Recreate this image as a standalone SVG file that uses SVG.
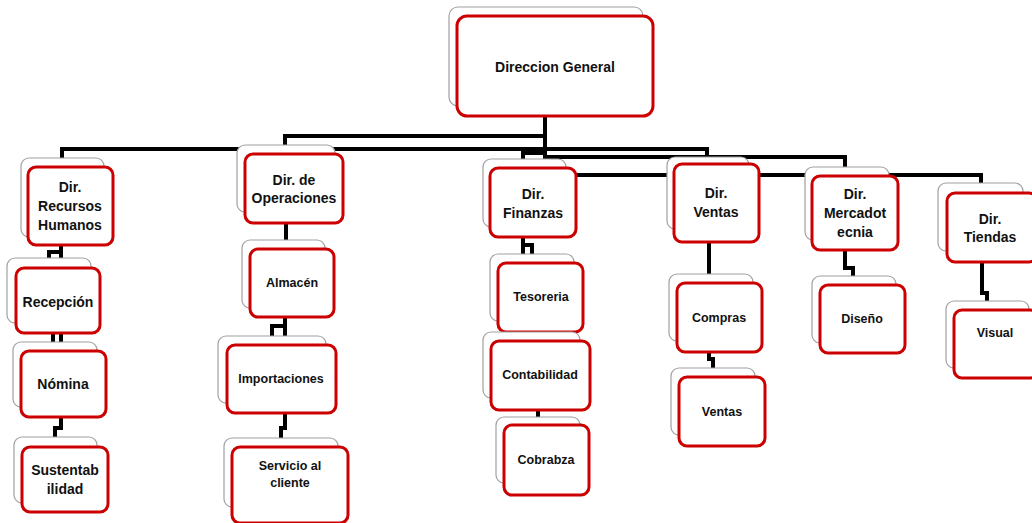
<svg xmlns="http://www.w3.org/2000/svg" width="1032" height="523" viewBox="0 0 1032 523">
<style>
.sh{fill:#fff;stroke:#a0a0a0;stroke-width:1.2}
.bx{fill:#fff;stroke:#cc0000;stroke-width:3}
.cn{fill:none;stroke:#000;stroke-width:4;stroke-linejoin:miter}
text{font-family:"Liberation Sans",Arial,sans-serif;font-weight:bold;fill:#111;text-anchor:middle}
.t14{font-size:14px}
.t12{font-size:12.5px}
</style>
<rect width="1032" height="523" fill="#fff"/>
<g id="connectors">
<path class="cn" d="M545,116 V176"/>
<path class="cn" d="M545,136 H285 V147"/>
<path class="cn" d="M545,149 H62 V160"/>
<path class="cn" d="M545,153 H523 V160"/>
<path class="cn" d="M545,149 H707 V159"/>
<path class="cn" d="M545,157 H845 V168"/>
<path class="cn" d="M545,175 H981 V185"/>
<path class="cn" d="M61,245 V252 H49 V268 M61,252 V268"/>
<path class="cn" d="M53,333 V343 M61,333 V343"/>
<path class="cn" d="M61,417 V428 H55 V439"/>
<path class="cn" d="M286,223 V241"/>
<path class="cn" d="M285,317 V326 H272 V338 M285,326 V338"/>
<path class="cn" d="M285,413 V428 H281 V440"/>
<path class="cn" d="M523,237 V256 M523,245 H532 V256"/>
<path class="cn" d="M538,410 V419"/>
<path class="cn" d="M709,242 V276"/>
<path class="cn" d="M709,352 V359 H713 V370"/>
<path class="cn" d="M845,250 V268 H853 V278"/>
<path class="cn" d="M982,262 V293 H987 V303"/>
</g>
<g id="n-direccion-general">
<rect class="sh" x="449" y="7" width="194" height="99" rx="9"/>
<rect class="bx" x="457" y="16" width="196" height="100" rx="10"/>
<text class="t14" x="555" y="72">Direccion General</text>
</g>
<g id="n-rrhh">
<rect class="sh" x="21" y="158" width="83" height="79" rx="8"/>
<rect class="bx" x="28" y="167" width="85" height="78" rx="8"/>
<text class="t14" x="70" y="192">Dir.</text>
<text class="t14" x="70" y="211">Recursos</text>
<text class="t14" x="70" y="230">Humanos</text>
</g>
<g id="n-recepcion">
<rect class="sh" x="7" y="258" width="84" height="65" rx="8"/>
<rect class="bx" x="16" y="268" width="84" height="65" rx="8"/>
<text class="t14" x="58" y="307">Recepción</text>
</g>
<g id="n-nomina">
<rect class="sh" x="13" y="342" width="84" height="65" rx="8"/>
<rect class="bx" x="21" y="351" width="85" height="66" rx="8"/>
<text class="t14" x="63" y="389">Nómina</text>
</g>
<g id="n-sustentabilidad">
<rect class="sh" x="14" y="437" width="83" height="66" rx="8"/>
<rect class="bx" x="22" y="447" width="86" height="65" rx="8"/>
<text class="t14" x="65" y="475">Sustentab</text>
<text class="t14" x="65" y="494">ilidad</text>
</g>
<g id="n-operaciones">
<rect class="sh" x="237" y="145" width="98" height="67" rx="8"/>
<rect class="bx" x="245" y="154" width="98" height="69" rx="8"/>
<text class="t14" x="294" y="185">Dir. de</text>
<text class="t14" x="294" y="203">Operaciones</text>
</g>
<g id="n-almacen">
<rect class="sh" x="242" y="240" width="83" height="68" rx="8"/>
<rect class="bx" x="250" y="249" width="84" height="68" rx="8"/>
<text class="t12" x="292" y="287">Almacén</text>
</g>
<g id="n-importaciones">
<rect class="sh" x="218" y="336" width="108" height="67" rx="8"/>
<rect class="bx" x="227" y="345" width="109" height="68" rx="8"/>
<text class="t12" x="281" y="383">Importaciones</text>
</g>
<g id="n-servicio">
<rect class="sh" x="224" y="438" width="114" height="69" rx="8"/>
<rect class="bx" x="232" y="447" width="116" height="76" rx="8"/>
<text class="t12" x="290" y="470">Servicio al</text>
<text class="t12" x="290" y="487">cliente</text>
</g>
<g id="n-finanzas">
<rect class="sh" x="483" y="159" width="83" height="68" rx="8"/>
<rect class="bx" x="490" y="168" width="86" height="69" rx="8"/>
<text class="t14" x="533" y="199">Dir.</text>
<text class="t14" x="533" y="218">Finanzas</text>
</g>
<g id="n-tesoreria">
<rect class="sh" x="490" y="254" width="84" height="67" rx="8"/>
<rect class="bx" x="498" y="263" width="85" height="69" rx="8"/>
<text class="t12" x="541" y="301">Tesoreria</text>
</g>
<g id="n-contabilidad">
<rect class="sh" x="483" y="332" width="97" height="66" rx="8"/>
<rect class="bx" x="491" y="341" width="99" height="69" rx="8"/>
<text class="t12" x="540" y="379">Contabilidad</text>
</g>
<g id="n-cobrabza">
<rect class="sh" x="496" y="417" width="84" height="66" rx="8"/>
<rect class="bx" x="504" y="425" width="85" height="70" rx="8"/>
<text class="t12" x="546" y="464">Cobrabza</text>
</g>
<g id="n-dir-ventas">
<rect class="sh" x="667" y="157" width="82" height="72" rx="8"/>
<rect class="bx" x="674" y="164" width="85" height="78" rx="8"/>
<text class="t14" x="716" y="198">Dir.</text>
<text class="t14" x="716" y="217">Ventas</text>
</g>
<g id="n-compras">
<rect class="sh" x="669" y="274" width="84" height="67" rx="8"/>
<rect class="bx" x="677" y="283" width="85" height="69" rx="8"/>
<text class="t12" x="719" y="322">Compras</text>
</g>
<g id="n-ventas">
<rect class="sh" x="671" y="368" width="84" height="67" rx="8"/>
<rect class="bx" x="679" y="377" width="86" height="69" rx="8"/>
<text class="t12" x="722" y="416">Ventas</text>
</g>
<g id="n-mercadotecnia">
<rect class="sh" x="805" y="167" width="84" height="73" rx="8"/>
<rect class="bx" x="812" y="176" width="86" height="74" rx="8"/>
<text class="t14" x="855" y="199">Dir.</text>
<text class="t14" x="855" y="218">Mercadot</text>
<text class="t14" x="855" y="237">ecnia</text>
</g>
<g id="n-diseno">
<rect class="sh" x="812" y="276" width="84" height="67" rx="8"/>
<rect class="bx" x="820" y="285" width="85" height="68" rx="8"/>
<text class="t12" x="862" y="323">Diseño</text>
</g>
<g id="n-tiendas">
<rect class="sh" x="938" y="183" width="85" height="68" rx="8"/>
<rect class="bx" x="947" y="193" width="90" height="69" rx="8"/>
<text class="t14" x="990" y="224">Dir.</text>
<text class="t14" x="990" y="242">Tiendas</text>
</g>
<g id="n-visual">
<rect class="sh" x="946" y="301" width="83" height="67" rx="8"/>
<rect class="bx" x="954" y="310" width="84" height="68" rx="8"/>
<text class="t12" x="995" y="337">Visual</text>
</g>
</svg>
